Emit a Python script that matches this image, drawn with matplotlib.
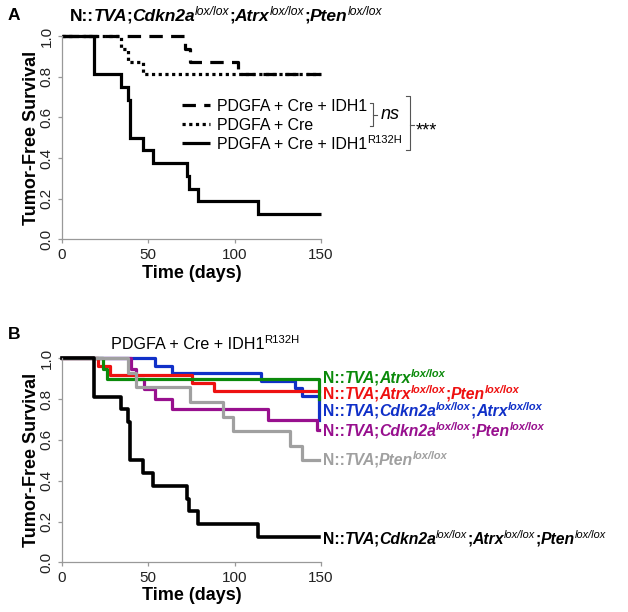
import matplotlib
matplotlib.use("Agg")
import matplotlib.pyplot as plt
from matplotlib.lines import Line2D

# ---------------- data ----------------
# Panel A (Kaplan-Meier steps: time in days, survival fraction)
a_idh1_t = [0, 71, 74, 102, 150]
a_idh1_s = [1.0, 0.9375, 0.875, 0.8125, 0.8125]
a_cre_t = [0, 34, 38, 47, 150]
a_cre_s = [1.0, 0.9375, 0.875, 0.8125, 0.8125]
a_r132h_t = [0, 18.5, 34, 38, 39.5, 47, 52.5, 72.5, 73.7, 79, 113.7, 150]
a_r132h_s = [1.0, 0.8125, 0.75, 0.6875, 0.5, 0.4375, 0.375, 0.3125, 0.25, 0.1875, 0.125, 0.125]

# Panel B
b_atrx_t = [0, 24, 26, 149]
b_atrx_s = [1.0, 0.95, 0.90, 0.80]
b_atrx_pten_t = [0, 21, 28, 75, 88, 149]
b_atrx_pten_s = [1.0, 0.96, 0.92, 0.88, 0.84, 0.84]
b_cdkn_atrx_t = [0, 54, 63.5, 115, 135, 139, 149]
b_cdkn_atrx_s = [1.0, 0.963, 0.926, 0.889, 0.852, 0.815, 0.70]
b_cdkn_pten_t = [0, 40, 43, 47.5, 54, 63.5, 119.5, 147.5, 149]
b_cdkn_pten_s = [1.0, 0.95, 0.90, 0.85, 0.80, 0.75, 0.70, 0.65, 0.65]
b_pten_t = [0, 38.4, 43, 74, 93.4, 99.2, 132, 138.8, 149]
b_pten_s = [1.0, 0.929, 0.857, 0.786, 0.714, 0.643, 0.571, 0.5, 0.5]
b_all_t = [0, 18.5, 34, 38, 39.5, 47, 52.5, 72.5, 73.7, 79, 113.7, 149]
b_all_s = [1.0, 0.8125, 0.75, 0.6875, 0.5, 0.4375, 0.375, 0.3125, 0.25, 0.1875, 0.125, 0.125]

x_ticks = [0, 50, 100, 150]
y_ticks = [0.0, 0.2, 0.4, 0.6, 0.8, 1.0]
y_ticklabels = ["0.0", "0.2", "0.4", "0.6", "0.8", "1.0"]
legend_a = ["PDGFA + Cre + IDH1", "PDGFA + Cre", "PDGFA + Cre + IDH1"]

GREEN = "#0b8a0b"
RED = "#ee1111"
BLUE = "#1030c8"
PURPLE = "#98108e"
GRAY = "#a0a0a0"

FONT = "Liberation Sans"
plt.rcParams["font.family"] = [FONT, "DejaVu Sans"]

W, H, DPI = 628, 612, 100
fig = plt.figure(figsize=(W / DPI, H / DPI), dpi=DPI)
renderer = fig.canvas.get_renderer()


def fx(px):
    return px / W


def fy(py):
    return 1 - py / H


def make_axes(top_px, bottom_px):
    left, right = 62, 321
    ax = fig.add_axes([fx(left), fy(bottom_px), (right - left) / W, (bottom_px - top_px) / H])
    ax.set_xlim(0, 150)
    ax.set_ylim(0, 1)
    for s in ["top", "right"]:
        ax.spines[s].set_visible(False)
    for s in ["left", "bottom"]:
        ax.spines[s].set_color("#999999")
        ax.spines[s].set_linewidth(0.9)
    ax.set_xticks(x_ticks)
    ax.set_xticklabels([str(v) for v in x_ticks])
    ax.set_yticks(y_ticks)
    ax.set_yticklabels(y_ticklabels, rotation=90, va="center")
    ax.tick_params(axis="both", direction="out", length=3, width=0.9, color="#999999",
                   labelsize=11, labelcolor="#222222", pad=3)
    ax.patch.set_visible(False)
    return ax


def advance(s, **props):
    # advance-like width: width(s + "l") - width("l")
    t1 = fig.text(0, 0, s + "l", **props)
    t2 = fig.text(0, 0, "l", **props)
    w = t1.get_window_extent(renderer).width - t2.get_window_extent(renderer).width
    t1.remove()
    t2.remove()
    return w


def rich(x_px, y_center_px, pieces, size, color):
    px_per_pt = DPI / 72.0
    cap = size * px_per_pt * 0.716
    base = y_center_px + cap / 2
    x = x_px
    prev_italic_main = False
    for s, st, wt, sup in pieces:
        if s == ";" and prev_italic_main:
            x -= 1.5
        fs = size * 0.7 if sup else size
        yb = base - (size * px_per_pt * 0.34 if sup else 0)
        props = dict(fontsize=fs, fontstyle=st, fontweight=wt, family=FONT)
        fig.text(fx(x), fy(yb), s, color=color, va="baseline", ha="left", **props)
        x += advance(s, **props)
        prev_italic_main = (st == "italic" and not sup)
    return x


def genotype_pieces(parts, bold_sup):
    sw = "bold" if bold_sup else "normal"
    out = [("N::", "normal", "bold", False)]
    for i, (name, sup) in enumerate(parts):
        if i > 0:
            out.append((";", "normal", "bold", False))
        out.append((name, "italic", "bold", False))
        if sup:
            out.append(("lox/lox", "italic", sw, True))
    return out


def fig_line(xs, ys, **kw):
    fig.add_artist(Line2D([fx(v) for v in xs], [fy(v) for v in ys],
                          transform=fig.transFigure, **kw))


# ---------------- Panel A ----------------
axA = make_axes(36.3, 239.3)
LW = 2.3
dash = (0, (4.2, 2.6))
dot = (0, (1.0, 1.1))
axA.step(a_r132h_t, a_r132h_s, where="post", color="black", lw=LW, clip_on=False,
         solid_capstyle="butt", solid_joinstyle="miter")
axA.step(a_cre_t, a_cre_s, where="post", color="black", lw=LW, ls=dot, clip_on=False,
         dash_capstyle="butt")
axA.step(a_idh1_t, a_idh1_s, where="post", color="black", lw=LW, ls=dash, clip_on=False,
         dash_capstyle="butt")

fig.text(fx(8), fy(20), "A", fontsize=12.5, fontweight="bold", va="baseline", ha="left", family=FONT)
rich(70, 14.5, genotype_pieces([("TVA", False), ("Cdkn2a", True), ("Atrx", True), ("Pten", True)], False),
     12.5, "black")

fig.text(fx(31), fy(137.8), "Tumor-Free Survival", rotation=90, fontsize=13, fontweight="bold",
         ha="center", va="center", family=FONT)
fig.text(fx(191.5), fy(273.3), "Time (days)", fontsize=13, fontweight="bold",
         ha="center", va="center", family=FONT)

# legend A
rows = [105, 124, 143]
styles = [dash, dot, "-"]
for r, s in zip(rows, styles):
    fig_line([182, 210], [r, r], color="black", lw=LW, ls=s, dash_capstyle="butt", solid_capstyle="butt")
rich(217, rows[0], [(legend_a[0], "normal", "normal", False)], 11.4, "black")
rich(217, rows[1], [(legend_a[1], "normal", "normal", False)], 11.4, "black")
rich(217, rows[2], [(legend_a[2], "normal", "normal", False), ("R132H", "normal", "normal", True)], 11.4, "black")

bc = "#555555"
# small brace for first two rows
fig_line([370, 373.5, 373.5, 370], [rows[0] - 2, rows[0] - 2, rows[1] + 2, rows[1] + 2], color=bc, lw=0.8)
fig_line([373.5, 377], [(rows[0] + rows[1]) / 2, (rows[0] + rows[1]) / 2], color=bc, lw=0.8)
fig.text(fx(381), fy((rows[0] + rows[1]) / 2), "ns", fontsize=13, fontstyle="italic",
         ha="left", va="center", family=FONT)
# big bracket for all rows
fig_line([406, 410, 410, 406], [rows[0] - 9, rows[0] - 9, rows[2] + 7, rows[2] + 7], color=bc, lw=0.8)
fig_line([410, 414], [rows[1] + 1, rows[1] + 1], color=bc, lw=0.8)
fig.text(fx(416), fy(rows[1] + 7), "***", fontsize=13, ha="left", va="center", family=FONT)

# ---------------- Panel B ----------------
axB = make_axes(358.3, 562.3)
LWB = 2.3
axB.step(b_cdkn_atrx_t, b_cdkn_atrx_s, where="post", color=BLUE, lw=LWB, clip_on=False)
axB.step(b_cdkn_pten_t, b_cdkn_pten_s, where="post", color=PURPLE, lw=LWB, clip_on=False)
axB.step(b_atrx_pten_t, b_atrx_pten_s, where="post", color=RED, lw=LWB, clip_on=False)
axB.step(b_atrx_t, b_atrx_s, where="post", color=GREEN, lw=LWB, clip_on=False)
axB.step(b_pten_t, b_pten_s, where="post", color=GRAY, lw=LWB, clip_on=False)
axB.step(b_all_t, b_all_s, where="post", color="black", lw=2.6, clip_on=False)

fig.text(fx(8), fy(339), "B", fontsize=12.5, fontweight="bold", va="baseline", ha="left", family=FONT)
rich(111, 343, [("PDGFA + Cre + IDH1", "normal", "normal", False), ("R132H", "normal", "normal", True)],
     11.6, "black")
fig.text(fx(31), fy(460.3), "Tumor-Free Survival", rotation=90, fontsize=13, fontweight="bold",
         ha="center", va="center", family=FONT)
fig.text(fx(191.5), fy(596), "Time (days)", fontsize=13, fontweight="bold",
         ha="center", va="center", family=FONT)

LS = 11.3
rich(323, 377, genotype_pieces([("TVA", False), ("Atrx", True)], True), LS, GREEN)
rich(323, 393, genotype_pieces([("TVA", False), ("Atrx", True), ("Pten", True)], True), LS, RED)
rich(323, 410, genotype_pieces([("TVA", False), ("Cdkn2a", True), ("Atrx", True)], True), LS, BLUE)
rich(323, 430, genotype_pieces([("TVA", False), ("Cdkn2a", True), ("Pten", True)], True), LS, PURPLE)
rich(323, 459, genotype_pieces([("TVA", False), ("Pten", True)], True), LS, GRAY)
rich(323, 538, genotype_pieces([("TVA", False), ("Cdkn2a", True), ("Atrx", True), ("Pten", True)], False),
     LS, "black")

fig.savefig("out.png", dpi=DPI)
